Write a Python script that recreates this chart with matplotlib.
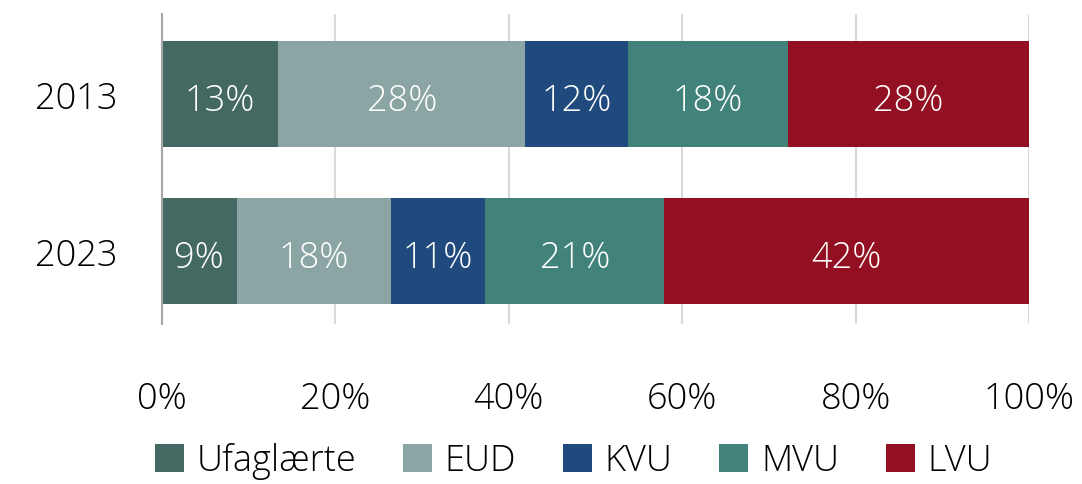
import matplotlib
matplotlib.use("Agg")
import matplotlib.pyplot as plt
from matplotlib.patches import Patch
import numpy as np

years = ["2013", "2023"]
categories = ["Ufaglærte", "EUD", "KVU", "MVU", "LVU"]
values = {
    "Ufaglærte": [13.4, 8.6],
    "EUD": [28.5, 17.8],
    "KVU": [11.9, 10.9],
    "MVU": [18.4, 20.6],
    "LVU": [27.8, 42.1],
}
labels = {
    "Ufaglærte": ["13%", "9%"],
    "EUD": ["28%", "18%"],
    "KVU": ["12%", "11%"],
    "MVU": ["18%", "21%"],
    "LVU": ["28%", "42%"],
}
colors = ["#446963", "#8AA5A3", "#204A7D", "#41837B", "#931022"]
xticks = [0, 20, 40, 60, 80, 100]
xticklabels = ["0%", "20%", "40%", "60%", "80%", "100%"]

plt.rcParams['font.family'] = ['Open Sans', 'DejaVu Sans']
FW = 300
FS = 26

fig = plt.figure(figsize=(10.82, 4.85), dpi=100)
ax = fig.add_axes([162/1082, 1-325/485, (1029-162)/1082, 310/485])

y = np.arange(len(years))
left = np.zeros(len(years))
for cat, col in zip(categories, colors):
    v = np.array(values[cat])
    ax.barh(y, v, left=left, height=0.675, color=col, zorder=3)
    for i in range(len(years)):
        ax.text(left[i] + v[i]/2, y[i] + 0.04, labels[cat][i], ha='center', va='center',
                color='white', fontsize=FS, fontweight=FW, zorder=4)
    left += v

ax.set_xlim(0, 100)
ax.set_ylim(1.465, -0.51)
ax.set_xticks(xticks)
ax.set_xticklabels(xticklabels, fontsize=FS, fontweight=FW)
ax.set_yticks(y)
ax.set_yticklabels(years, fontsize=FS, fontweight=FW)
ax.tick_params(axis='x', length=0, pad=40)
ax.tick_params(axis='y', length=0, pad=32)
ax.grid(axis='x', color='#d9d9d9', linewidth=1.5, zorder=0)
for s in ['top', 'right', 'bottom']:
    ax.spines[s].set_visible(False)
ax.spines['left'].set_color('#a6a6a6')
ax.spines['left'].set_linewidth(1.5)
ax.spines['left'].set_zorder(5)

handles = [Patch(facecolor=c, edgecolor='none') for c in colors]
fig.legend(handles, categories, loc='center', bbox_to_anchor=(0.53, 1-462/485), ncol=5,
           frameon=False, prop={'size': FS, 'weight': FW}, handlelength=0.8, handleheight=0.8,
           handletextpad=0.35, columnspacing=1.3)

fig.savefig("out.png", dpi=100)
